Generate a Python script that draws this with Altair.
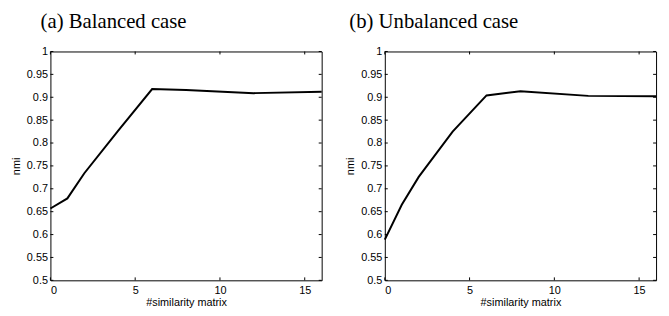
import altair as alt
import pandas as pd

x_vals = [0, 1, 2, 4, 6, 8, 12, 16]
balanced = [0.657, 0.679, 0.734, 0.827, 0.918, 0.916, 0.909, 0.912]
unbalanced = [0.589, 0.665, 0.726, 0.825, 0.904, 0.913, 0.903, 0.902]
x_ticks = [0, 5, 10, 15]
y_ticks = [0.5, 0.55, 0.6, 0.65, 0.7, 0.75, 0.8, 0.85, 0.9, 0.95, 1.0]
titles = ["(a) Balanced case", "(b) Unbalanced case"]
title_dx = [-10, -36]

SANS = "Liberation Sans"
SERIF = "Liberation Serif"
W, H = 275, 232
TICK = 3


def panel(values, title, dx):
    df = pd.DataFrame({"x": x_vals, "nmi": values})
    xdf = pd.DataFrame({"x": x_ticks})
    ydf = pd.DataFrame({"nmi": y_ticks})
    xs = alt.Scale(domain=[0, 16], nice=False, zero=False)
    ys = alt.Scale(domain=[0.5, 1.0], nice=False, zero=False)
    xaxis = alt.Axis(values=x_ticks, format="~g", grid=False, ticks=False,
                     domain=False, labelPadding=4, titlePadding=2)
    yaxis = alt.Axis(values=y_ticks, format="~g", grid=False, ticks=False,
                     domain=False, labelPadding=3, titlePadding=5)
    X = alt.X("x:Q", scale=xs, title="#similarity matrix", axis=xaxis)
    Y = alt.Y("nmi:Q", scale=ys, title="nmi", axis=yaxis)

    main = alt.Chart(df).mark_line(color="black", strokeWidth=2).encode(x=X, y=Y)
    tick_style = dict(color="black", strokeWidth=1)
    left = alt.Chart(ydf).mark_rule(**tick_style).encode(
        y=Y, x=alt.value(0), x2=alt.value(TICK))
    right = alt.Chart(ydf).mark_rule(**tick_style).encode(
        y=Y, x=alt.value(W), x2=alt.value(W - TICK))
    bottom = alt.Chart(xdf).mark_rule(**tick_style).encode(
        x=X, y=alt.value(H), y2=alt.value(H - TICK))
    top = alt.Chart(xdf).mark_rule(**tick_style).encode(
        x=X, y=alt.value(0), y2=alt.value(TICK))

    return alt.layer(main, left, right, bottom, top).properties(
        width=W, height=H,
        title=alt.TitleParams(title, anchor="start", frame="group", dx=dx,
                              font=SERIF, fontSize=21, fontWeight="normal",
                              color="black", offset=14),
    )


chart = alt.hconcat(
    panel(balanced, titles[0], title_dx[0]),
    panel(unbalanced, titles[1], title_dx[1]),
    spacing=18,
).properties(
    padding={"left": 2, "top": 0, "right": 0, "bottom": 0},
).configure_view(
    stroke="black", strokeWidth=1,
).configure_axis(
    labelFont=SANS, titleFont=SANS, labelFontSize=11, titleFontSize=11,
    labelColor="black", titleColor="black", titleFontWeight="normal",
)

chart.save("out.html", embed_options={"renderer": "svg", "actions": False})
